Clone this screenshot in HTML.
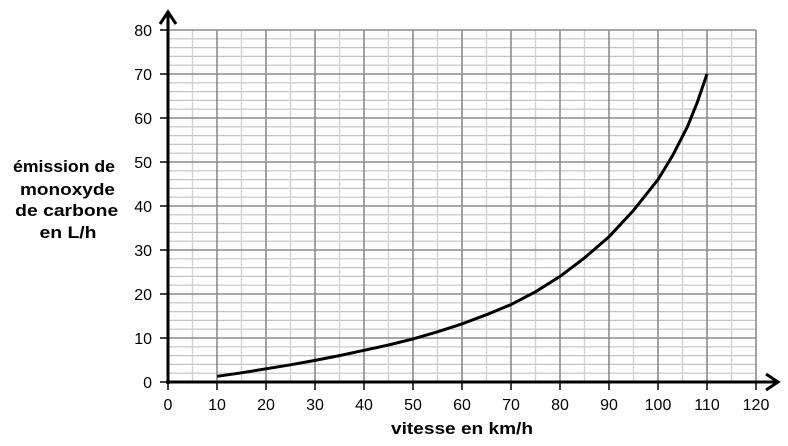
<!DOCTYPE html>
<html><head><meta charset="utf-8"><style>body{margin:0;background:#fff}svg{display:block}</style></head><body>
<svg width="788" height="446" xmlns="http://www.w3.org/2000/svg" font-family="Liberation Sans, Arial, sans-serif">
<path fill="none" stroke="#c4c4c4" stroke-width="1.2" d="M168 373.2H756M168 364.4H756M168 355.6H756M168 346.8H756M168 329.2H756M168 320.4H756M168 311.6H756M168 302.8H756M168 285.2H756M168 276.4H756M168 267.6H756M168 258.8H756M168 241.2H756M168 232.4H756M168 223.6H756M168 214.8H756M168 197.2H756M168 188.4H756M168 179.6H756M168 170.8H756M168 153.2H756M168 144.4H756M168 135.6H756M168 126.8H756M168 109.2H756M168 100.4H756M168 91.6H756M168 82.8H756M168 65.2H756M168 56.4H756M168 47.6H756M168 38.8H756"/>
<path fill="none" stroke="#d2d2d2" stroke-width="1.4" d="M192.5 30V382M241.5 30V382M290.5 30V382M339.5 30V382M388.5 30V382M437.5 30V382M486.5 30V382M535.5 30V382M584.5 30V382M633.5 30V382M682.5 30V382M731.5 30V382"/>
<path fill="none" stroke="#8c8c8c" stroke-width="1.6" d="M168 338H756M168 294H756M168 250H756M168 206H756M168 162H756M168 118H756M168 74H756M168 30H756M217 30V382M266 30V382M315 30V382M364 30V382M413 30V382M462 30V382M511 30V382M560 30V382M609 30V382M658 30V382M707 30V382M756 30V382"/>
<path fill="none" stroke="#000" stroke-width="1.5" d="M160 382H168M160 338H168M160 294H168M160 250H168M160 206H168M160 162H168M160 118H168M160 74H168M160 30H168M168 382V390M217 382V390M266 382V390M315 382V390M364 382V390M413 382V390M462 382V390M511 382V390M560 382V390M609 382V390M658 382V390M707 382V390M756 382V390"/>
<g font-size="16" text-anchor="end">
<text x="152" y="388">0</text><text x="152" y="344">10</text><text x="152" y="300">20</text><text x="152" y="256">30</text><text x="152" y="212">40</text><text x="152" y="168">50</text><text x="152" y="124">60</text><text x="152" y="80">70</text><text x="152" y="36">80</text>
</g>
<g font-size="16" text-anchor="middle">
<text x="168" y="410">0</text><text x="217" y="410">10</text><text x="266" y="410">20</text><text x="315" y="410">30</text><text x="364" y="410">40</text><text x="413" y="410">50</text><text x="462" y="410">60</text><text x="511" y="410">70</text><text x="560" y="410">80</text><text x="609" y="410">90</text><text x="658" y="410">100</text><text x="707" y="410">110</text><text x="756" y="410">120</text>
</g>
<line x1="168" y1="384" x2="168" y2="14" stroke="#000" stroke-width="3"/>
<polyline points="160,24 168,12 176,24" fill="none" stroke="#000" stroke-width="3"/>
<line x1="166" y1="382" x2="776" y2="382" stroke="#000" stroke-width="3"/>
<polyline points="766,374 778,382 766,390" fill="none" stroke="#000" stroke-width="3"/>
<polyline fill="none" stroke="#000" stroke-width="3" stroke-linejoin="round" points="217,376.3 241.5,372.8 266,368.8 290.5,364.8 315,360.4 339.5,355.6 364,350.3 388.5,345 413,338.9 437.5,331.8 462,323.9 486.5,314.7 511,304.6 535.5,291.8 560,276.4 584.5,257.9 609,236.8 633.5,210.4 658,179.6 672.7,155.4 687.4,126.8 697.2,102.6 707,74"/>
<g font-size="17" font-weight="bold" text-anchor="middle">
<text x="64" y="172" textLength="102" lengthAdjust="spacingAndGlyphs">émission de</text>
<text x="67.5" y="195" textLength="95" lengthAdjust="spacingAndGlyphs">monoxyde</text>
<text x="66.7" y="216" textLength="103" lengthAdjust="spacingAndGlyphs">de carbone</text>
<text x="68" y="238" textLength="57" lengthAdjust="spacingAndGlyphs">en L/h</text>
<text x="462" y="434" textLength="142" lengthAdjust="spacingAndGlyphs">vitesse en km/h</text>
</g>
</svg>
</body></html>
